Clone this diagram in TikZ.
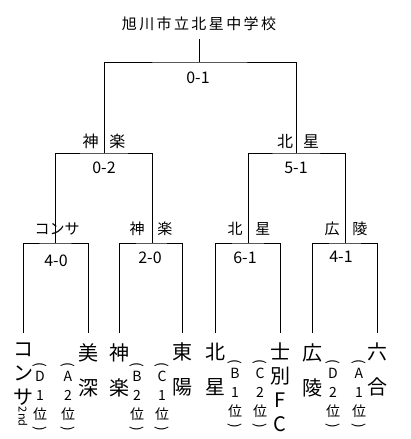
\documentclass[tikz,border=0pt]{standalone}
\usepackage{fontspec}
\setmainfont{Noto Sans CJK JP}
\newfontfamily\titlefont[LetterSpace=16]{Noto Sans CJK JP}
\usetikzlibrary{positioning}

\begin{document}
\begin{tikzpicture}[
    x=1pt, y=-1pt,
    line/.style={draw, line width=0.8pt},
    title/.style={font=\titlefont\fontsize{15}{18}\selectfont, inner xsep=0pt, inner ysep=8pt},
    score/.style={font=\fontsize{16}{18}\selectfont, inner sep=0pt},
    winner/.style={font=\fontsize{16}{18}\selectfont, inner sep=0pt},
    winnersm/.style={font=\fontsize{15}{18}\selectfont, inner sep=0pt},
    team/.style={font=\fontsize{20}{24}\selectfont, align=center, anchor=north, inner xsep=0pt, inner ysep=10pt},
    rank/.style={font=\fontsize{14}{19}\selectfont, align=center, anchor=north, inner sep=0pt}
]
\useasboundingbox[fill=white] (0,0) rectangle (410,439);

% Title
\node[title] (title) at (199,24) {旭川市立北星中学校};

% Teams
\node[team] (konsa) at (23,333) {コ\\ン\\サ\\[-22pt]{\fontsize{11}{11}\selectfont\rotatebox{-90}{2nd}}};
\node[team] (bifuka) at (88,333) {美\\[11pt]深};
\node[team] (kagura) at (119,333) {神\\[11pt]楽};
\node[team] (toyo) at (182,333) {東\\[11pt]陽};
\node[team] (hokusei) at (215,333) {北\\[11pt]星};
\node[team] (shibetsu) at (280,333) {士\\別\\F\\C};
\node[team] (koryo) at (312,333) {広\\[11pt]陵};
\node[team] (rokugo) at (377,333) {六\\[11pt]合};

% Group ranks
\node[rank] (konsa-r) at (40,362) {\rotatebox{-90}{(}\\D\\1\\位\\[-12pt]\rotatebox{-90}{)}};
\node[rank] (bifuka-r) at (68,362) {\rotatebox{-90}{(}\\A\\2\\位\\[-12pt]\rotatebox{-90}{)}};
\node[rank] (kagura-r) at (137,362) {\rotatebox{-90}{(}\\B\\2\\位\\[-12pt]\rotatebox{-90}{)}};
\node[rank] (toyo-r) at (162,362) {\rotatebox{-90}{(}\\C\\1\\位\\[-12pt]\rotatebox{-90}{)}};
\node[rank] (hokusei-r) at (235,359) {\rotatebox{-90}{(}\\B\\1\\位\\[-12pt]\rotatebox{-90}{)}};
\node[rank] (shibetsu-r) at (260,359) {\rotatebox{-90}{(}\\C\\2\\位\\[-12pt]\rotatebox{-90}{)}};
\node[rank] (koryo-r) at (333,359) {\rotatebox{-90}{(}\\D\\2\\位\\[-12pt]\rotatebox{-90}{)}};
\node[rank] (rokugo-r) at (359,359) {\rotatebox{-90}{(}\\A\\1\\位\\[-12pt]\rotatebox{-90}{)}};

% First round
\coordinate (j1) at (55,243);
\coordinate (j2) at (152,243);
\coordinate (j3) at (248,243);
\coordinate (j4) at (345,243);
\node[winnersm] (w-j1) at (57,229) {コンサ};
\node[winnersm] (w-j2) at (151,229) {神\hspace{13pt}楽};
\node[winnersm] (w-j3) at (249,229) {北\hspace{13pt}星};
\node[winnersm] (w-j4) at (346,229) {広\hspace{13pt}陵};
\node[score] (s-j1) at (56,261) {4-0};
\node[score] (s-j2) at (150,258) {2-0};
\node[score] (s-j3) at (245,258) {6-1};
\node[score] (s-j4) at (341,257) {4-1};

% Semi-finals
\coordinate (k1) at (104,153);
\coordinate (k2) at (296,153);
\node[winner] (w-k1) at (104,141) {神\hspace{11pt}楽};
\node[winner] (w-k2) at (298,141) {北\hspace{10pt}星};
\node[score] (s-k1) at (104,168) {0-2};
\node[score] (s-k2) at (296,168) {5-1};

% Final
\coordinate (t) at (199,62);
\node[score] (s-t) at (198,78) {0-1};

% Connections
\draw[line] (konsa.north) |- (j1) -| (bifuka.north);
\draw[line] (kagura.north) |- (j2) -| (toyo.north);
\draw[line] (hokusei.north) |- (j3) -| (shibetsu.north);
\draw[line] (koryo.north) |- (j4) -| (rokugo.north);

\draw[line] (j1) |- (k1) -| (j2);
\draw[line] (j3) |- (k2) -| (j4);

\draw[line] (k1) |- (t) -| (k2);
\draw[line] (title.south) -- (t);
\end{tikzpicture}
\end{document}
